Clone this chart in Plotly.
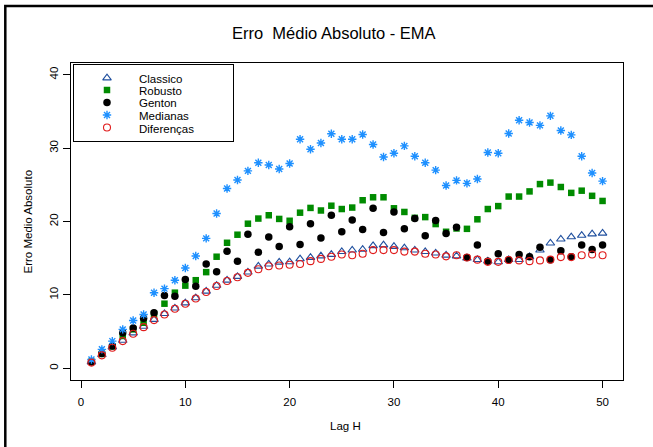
import plotly.graph_objects as go

# Lag values and mean absolute error for each estimator
lag_h = list(range(1, 51))

classico = [0.85, 1.85, 2.9, 3.8, 4.8, 5.7, 6.65, 7.45, 8.2, 8.9,
            9.6, 10.5, 11.3, 12.0, 12.5, 13.1, 13.9, 14.2, 14.45, 14.5,
            14.9, 15.1, 15.3, 15.5, 15.9, 16.1, 16.2, 16.7, 16.8, 16.6,
            16.4, 16.1, 15.9, 15.7, 15.4, 15.3, 15.0, 14.8, 14.6, 14.5,
            14.8, 14.8, 15.2, 16.1, 17.05, 17.6, 17.9, 18.1, 18.3, 18.4]

robusto = [0.9, 1.95, 3.0, 4.4, 5.3, 6.2, 7.4, 8.8, 10.3, 11.26,
           12.0, 13.1, 15.2, 17.1, 18.2, 19.7, 20.4, 20.85, 20.35, 20.1,
           21.2, 21.85, 21.5, 22.15, 21.7, 21.9, 22.9, 23.3, 23.3, 21.8,
           21.3, 20.5, 20.6, 19.65, 18.6, 19.05, 19.0, 20.3, 21.7, 22.1,
           23.4, 23.4, 24.1, 25.1, 25.3, 24.7, 23.9, 24.2, 23.5, 22.8]

genton = [0.85, 2.0, 3.05, 4.84, 5.5, 6.8, 7.55, 9.9, 9.8, 12.1,
          11.17, 14.2, 13.16, 15.95, 14.6, 18.25, 15.8, 17.9, 16.6, 19.3,
          16.85, 19.7, 17.75, 20.85, 18.6, 20.2, 18.9, 21.8, 18.5, 21.3,
          19.0, 20.4, 18.05, 20.15, 18.35, 19.2, 15.1, 16.8, 14.6, 15.6,
          14.75, 15.5, 15.2, 16.5, 14.8, 16.0, 15.2, 16.8, 16.2, 16.8]

medianas = [1.2, 2.58, 3.7, 5.3, 6.5, 7.33, 10.3, 10.85, 12.0, 13.66,
            15.3, 17.7, 21.1, 24.5, 25.65, 26.9, 28.0, 27.7, 27.15, 27.9,
            31.2, 29.85, 30.7, 31.95, 31.2, 31.2, 31.85, 30.5, 28.8, 29.3,
            30.3, 28.9, 28.0, 27.0, 24.9, 25.6, 25.2, 25.8, 29.4, 29.3,
            32.0, 33.8, 33.5, 33.1, 34.4, 32.4, 31.8, 28.9, 26.6, 25.5]

diferencas = [0.77, 1.76, 2.8, 3.7, 4.7, 5.6, 6.56, 7.33, 8.1, 8.8,
              9.5, 10.4, 11.2, 11.9, 12.4, 13.0, 13.5, 13.9, 14.0, 14.1,
              14.2, 14.6, 14.9, 15.2, 15.5, 15.4, 15.6, 16.1, 16.1, 16.1,
              15.9, 15.9, 15.6, 15.5, 15.25, 15.4, 15.1, 14.8, 14.5, 14.5,
              14.75, 14.7, 14.6, 14.7, 14.8, 15.15, 15.15, 15.4, 15.5, 15.4]

series_names = ["Classico", "Robusto", "Genton", "Medianas", "Diferenças"]
x_ticks = [0, 10, 20, 30, 40, 50]
y_ticks = [0, 10, 20, 30, 40]

FONT = "Liberation Sans, Arial, sans-serif"
styles = [
    dict(symbol="triangle-up-open", color="#1f4f9e", size=7.5, line=dict(width=1.1, color="#1f4f9e")),
    dict(symbol="square", color="#008b00", size=6.5, line=dict(width=0)),
    dict(symbol="circle", color="#000000", size=7.5, line=dict(width=0)),
    dict(symbol="asterisk-open", color="#1e90ff", size=7, line=dict(width=1.4, color="#1e90ff")),
    dict(symbol="circle-open", color="#e01b1b", size=7, line=dict(width=1.1, color="#e01b1b")),
]
values = [classico, robusto, genton, medianas, diferencas]

fig = go.Figure()
for name, ys, st in zip(series_names, values, styles):
    fig.add_trace(go.Scatter(x=lag_h, y=ys, mode="markers", name=name,
                             marker=st, showlegend=False, cliponaxis=False))

# Legend keys drawn on a small auxiliary axis pair inside the legend box
key_rows = [63, 51, 38.5, 26, 13.5]
for name, row, st in zip(series_names, key_rows, styles):
    fig.add_trace(go.Scatter(x=[33], y=[row], mode="markers", marker=st,
                             xaxis="x2", yaxis="y2", showlegend=False,
                             hoverinfo="skip"))
    fig.add_annotation(x=63, y=row - 1, xref="x2", yref="y2", text=name,
                       showarrow=False, xanchor="left", yanchor="middle",
                       font=dict(family=FONT, size=11.5, color="black"))

W, H = 653, 447
ML, MR, MT, MB = 71, 30, 63, 67
pw, ph = W - ML - MR, H - MT - MB

def px_x(p):
    return (p - ML) / pw

def px_y(p):
    return (H - MB - p) / ph

fig.update_layout(
    width=W, height=H,
    margin=dict(l=ML, r=MR, t=MT, b=MB),
    paper_bgcolor="white", plot_bgcolor="white",
    font=dict(family=FONT, size=11.5, color="black"),
    showlegend=False,
    xaxis=dict(range=[-0.96, 51.96], tickvals=x_ticks, ticks="outside",
               ticklen=7, tickwidth=1, tickcolor="black", showgrid=False,
               zeroline=False, showline=True, mirror=True, linecolor="black",
               linewidth=1, tickfont=dict(size=11.5), ticklabelstandoff=4),
    yaxis=dict(range=[-1.6, 41.6], tickvals=y_ticks, ticks="outside",
               ticklen=7, tickwidth=1, tickcolor="black", showgrid=False,
               zeroline=False, showline=True, mirror=True, linecolor="black",
               linewidth=1, tickangle=-90, tickfont=dict(size=11.5)),
    xaxis2=dict(domain=[px_x(74), px_x(233)], range=[0, 159], anchor="y2",
                showgrid=False, zeroline=False, showticklabels=False,
                showline=True, mirror=True, linecolor="black", linewidth=1,
                fixedrange=True),
    yaxis2=dict(domain=[px_y(141), px_y(65)], range=[0, 76], anchor="x2",
                showgrid=False, zeroline=False, showticklabels=False,
                showline=True, mirror=True, linecolor="black", linewidth=1,
                fixedrange=True),
)

# Titles
fig.add_annotation(x=px_x(334), y=px_y(33), xref="paper", yref="paper",
                   text="Erro  Médio Absoluto - EMA", showarrow=False,
                   xanchor="center", yanchor="middle",
                   font=dict(family=FONT, size=16.5, color="black"))
fig.add_annotation(x=px_x(345), y=px_y(426), xref="paper", yref="paper",
                   text="Lag H", showarrow=False, xanchor="center",
                   yanchor="middle", font=dict(family=FONT, size=11.5))
fig.add_annotation(x=px_x(27), y=px_y(221.5), xref="paper", yref="paper",
                   text="Erro Medio Absoluto", showarrow=False, textangle=-90,
                   xanchor="center", yanchor="middle",
                   font=dict(family=FONT, size=11.5))

# Outer frame around the figure
fig.add_shape(type="rect", xref="paper", yref="paper",
              x0=px_x(5.3), y0=px_y(520), x1=px_x(720), y1=px_y(6),
              line=dict(color="black", width=2.5), fillcolor="rgba(0,0,0,0)",
              layer="above")

fig.write_html("out.html")
